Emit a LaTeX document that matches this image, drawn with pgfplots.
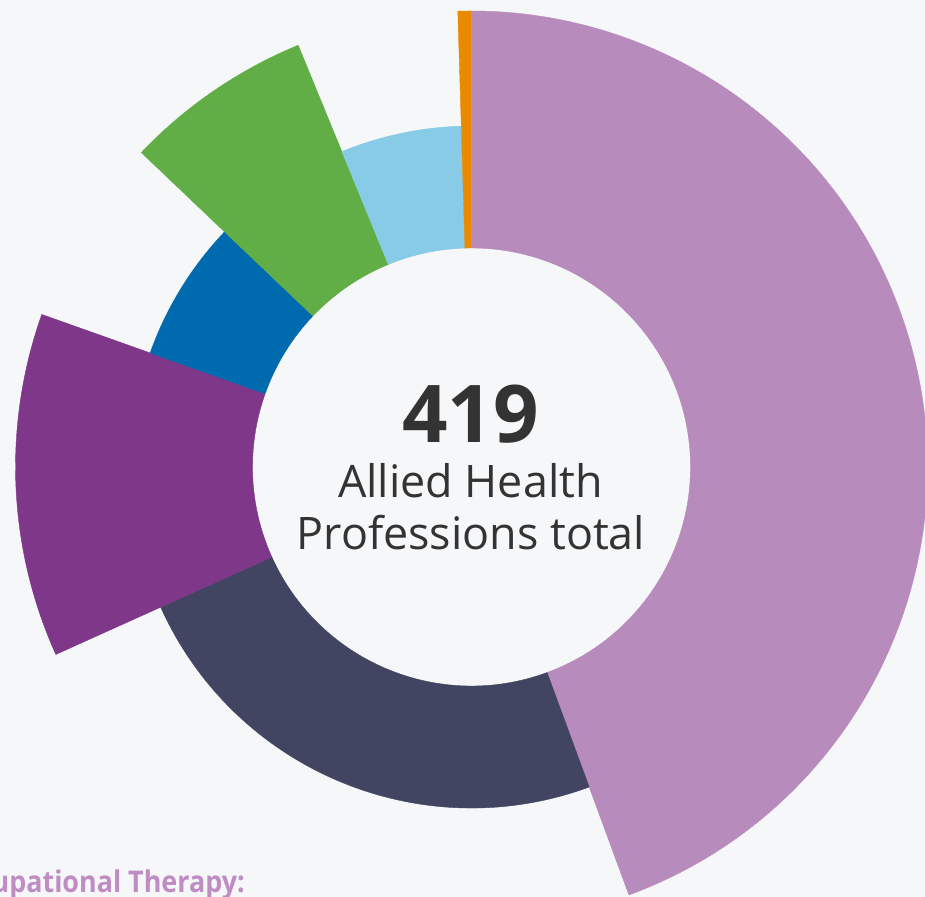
\documentclass[border=0pt]{standalone}
\usepackage{pgfplots}
\pgfplotsset{compat=1.18}
\usepackage{pgfplotstable}
\usepackage{fontspec}
\setmainfont{Open Sans}
\definecolor{bg}{HTML}{F6F7F9}
\definecolor{cLP}{HTML}{B88BBD}
\definecolor{cNV}{HTML}{414562}
\definecolor{cDP}{HTML}{7E3789}
\definecolor{cDB}{HTML}{006AAF}
\definecolor{cGR}{HTML}{62AE46}
\definecolor{cLB}{HTML}{87CBE6}
\definecolor{cOR}{HTML}{EA8A00}
\definecolor{ctext}{HTML}{333333}
\definecolor{cLPt}{HTML}{BF8DC4}

% n = size of each profession group (sets the angle); start = running total before it;
% rout = outer radius (decorative)
\pgfplotstableread{
n start rout col
186 0 456 cLP
100 186 341 cNV
51 286 456 cDP
28 337 341 cDB
28 365 456 cGR
24 393 341 cLB
2 417 456 cOR
}\sectors

\pgfdeclareplotmark{sectorblank}{}
\pgfplotsset{sector/.style n args={4}{
  scatter, only marks, mark=sectorblank, point meta=0,
  scatter/@pre marker code/.code={%
    \pgfkeys{/pgf/fpu=false}%
    \pgfmathsetmacro\aS{90-360*((#1)/419)}%
    \pgfmathsetmacro\aE{90-360*((#1+#2)/419)}%
    \fill[#4] (\aS:219bp) arc[start angle=\aS,end angle=\aE,radius=219bp]
      -- (\aE:#3bp) arc[start angle=\aE,end angle=\aS,radius=#3bp] -- cycle;
  },
  scatter/@post marker code/.code={},
}}

\begin{document}
\begin{tikzpicture}
\useasboundingbox (0,0) rectangle (925bp,897bp);
\fill[bg] (0,0) rectangle (925bp,897bp);
\clip (0,0) rectangle (925bp,897bp);
\begin{axis}[
  at={(471.5bp,430bp)}, anchor=origin,
  x=1bp, y=1bp,
  xmin=-471.5, xmax=453.5, ymin=-430, ymax=467,
  axis lines=none, clip=false,
  point meta min=0, point meta max=1,
]
\pgfplotsinvokeforeach{0,...,6}{%
  \pgfplotstablegetelem{#1}{n}\of\sectors \let\sval=\pgfplotsretval
  \pgfplotstablegetelem{#1}{start}\of\sectors \let\sstart=\pgfplotsretval
  \pgfplotstablegetelem{#1}{rout}\of\sectors \let\srout=\pgfplotsretval
  \pgfplotstablegetelem{#1}{col}\of\sectors \let\scol=\pgfplotsretval
  \edef\doplot{\noexpand\addplot[sector={\sstart}{\sval}{\srout}{\scol}] coordinates {(0,0)};}%
  \doplot
}
\end{axis}
\node[anchor=base, inner sep=0, text=ctext, font=\bfseries\fontsize{80}{80}\selectfont] at (470.5bp,454bp) {419};
\node[anchor=base, inner sep=0, text=ctext, font=\fontsize{45}{45}\selectfont] at (470.5bp,399bp) {Allied Health};
\node[anchor=base, inner sep=0, text=ctext, font=\fontsize{45}{45}\selectfont] at (471bp,347bp) {Professions total};
\node[anchor=base east, inner sep=0, text=cLPt, font=\bfseries\fontsize{30}{30}\selectfont\addfontfeatures{FakeStretch=0.9}] at (245bp,5bp) {Occupational Therapy:};
\end{tikzpicture}
\end{document}
